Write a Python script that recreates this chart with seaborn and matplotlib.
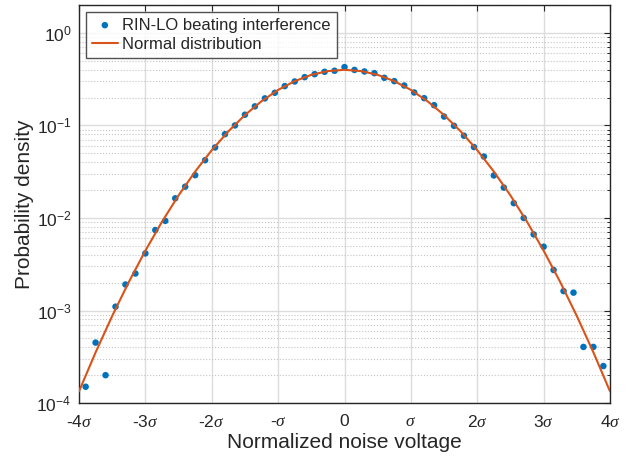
"""RIN-LO beating interference vs. normal distribution (log-scale PDF)."""

import matplotlib

matplotlib.use("Agg")
import matplotlib.pyplot as plt
import matplotlib.ticker as mticker
import pandas as pd
import seaborn as sns

# measured histogram (normalized voltage in units of sigma, probability density)
NOISE_X = [
    -3.90, -3.75, -3.60, -3.45, -3.30, -3.15, -3.00, -2.85, -2.70, -2.55,
    -2.40, -2.25, -2.10, -1.95, -1.80, -1.65, -1.50, -1.35, -1.20, -1.05,
    -0.90, -0.75, -0.60, -0.45, -0.30, -0.15, 0.00, 0.15, 0.30, 0.45,
    0.60, 0.75, 0.90, 1.05, 1.20, 1.35, 1.50, 1.65, 1.80, 1.95,
    2.10, 2.25, 2.40, 2.55, 2.70, 2.85, 3.00, 3.15, 3.30, 3.45,
    3.60, 3.75, 3.90,
]
NOISE_PDF = [
    1.5e-4, 4.5e-4, 2.0e-4, 1.10e-3, 1.91e-3, 2.51e-3, 4.14e-3, 7.4e-3, 9.3e-3, 0.0163,
    0.0218, 0.0290, 0.0421, 0.0578, 0.0805, 0.100, 0.1306, 0.1607, 0.196, 0.2254,
    0.266, 0.2985, 0.3325, 0.358, 0.380, 0.390, 0.4266, 0.398, 0.383, 0.367,
    0.327, 0.301, 0.270, 0.227, 0.197, 0.1655, 0.1247, 0.099, 0.0774, 0.0584,
    0.0461, 0.0288, 0.0213, 0.01445, 0.0100, 6.64e-3, 4.89e-3, 2.74e-3, 1.62e-3, 1.56e-3,
    4.04e-4, 4.04e-4, 2.51e-4,
]

# reference normal curve
NORMAL_X = [
    -4.00, -3.75, -3.50, -3.25, -3.00, -2.75, -2.50, -2.25, -2.00, -1.75,
    -1.50, -1.25, -1.00, -0.75, -0.50, -0.25, 0.00, 0.25, 0.50, 0.75,
    1.00, 1.25, 1.50, 1.75, 2.00, 2.25, 2.50, 2.75, 3.00, 3.25,
    3.50, 3.75, 4.00,
]
NORMAL_PDF = [
    1.338e-4, 3.527e-4, 8.727e-4, 2.029e-3, 4.432e-3, 9.096e-3, 0.01753, 0.03174, 0.05399, 0.08628,
    0.12952, 0.18265, 0.24197, 0.30114, 0.35207, 0.38667, 0.39894, 0.38667, 0.35207, 0.30114,
    0.24197, 0.18265, 0.12952, 0.08628, 0.05399, 0.03174, 0.01753, 9.096e-3, 4.432e-3, 2.029e-3,
    8.727e-4, 3.527e-4, 1.338e-4,
]

X_TICKS = [-4, -3, -2, -1, 0, 1, 2, 3, 4]
X_TICKLABELS = [r"-4$\sigma$", r"-3$\sigma$", r"-2$\sigma$", r"-$\sigma$", "0",
                r"$\sigma$", r"2$\sigma$", r"3$\sigma$", r"4$\sigma$"]

BLUE = "#0072BD"
ORANGE = "#D95319"


def main() -> None:
    sns.set_theme(style="white")
    plt.rcParams["font.family"] = ["Liberation Sans", "DejaVu Sans"]
    plt.rcParams["mathtext.fontset"] = "custom"
    plt.rcParams["mathtext.rm"] = "Liberation Sans"
    plt.rcParams["mathtext.it"] = "Liberation Serif:italic"

    meas = pd.DataFrame({"x": NOISE_X, "pdf": NOISE_PDF})
    norm = pd.DataFrame({"x": NORMAL_X, "pdf": NORMAL_PDF})

    fig = plt.figure(figsize=(6.32, 4.58), dpi=100)
    ax = fig.add_axes([0.125, 0.12, 0.8402, 0.869])

    sns.scatterplot(data=meas, x="x", y="pdf", ax=ax, color=BLUE, s=22,
                    edgecolor="none", label="RIN-LO beating interference", zorder=3)
    sns.lineplot(data=norm, x="x", y="pdf", ax=ax, color=ORANGE, linewidth=1.5,
                 label="Normal distribution", zorder=4)

    ax.set_yscale("log")
    ax.set_xlim(-4, 4)
    ax.set_ylim(1e-4, 2)
    ax.set_xticks(X_TICKS)
    ax.set_xticklabels(X_TICKLABELS)
    ax.yaxis.set_major_locator(mticker.LogLocator(base=10, numticks=10))
    ax.yaxis.set_minor_locator(mticker.LogLocator(base=10, subs=range(2, 10), numticks=20))
    ax.yaxis.set_minor_formatter(mticker.NullFormatter())

    ax.grid(which="major", color="#dcdcdc", linewidth=1.0)
    ax.grid(which="minor", axis="y", color="#c4c4c4", linestyle=":", linewidth=0.8)
    ax.set_axisbelow(True)

    ax.tick_params(which="both", direction="in", top=True, right=True,
                   labelsize=12.5, colors="#262626")
    ax.tick_params(which="major", length=4, width=0.8)
    ax.tick_params(which="minor", length=2.5, width=0.7)
    ax.tick_params(axis="x", pad=8)
    ax.tick_params(axis="y", pad=5.5)
    for sp in ax.spines.values():
        sp.set_color("#262626")
        sp.set_linewidth(1.0)

    ax.set_xlabel("Normalized noise voltage", fontsize=15, color="#262626", labelpad=2)
    ax.set_ylabel("Probability density", fontsize=15, color="#262626", labelpad=2)

    leg = ax.legend(loc="upper left", fontsize=12, frameon=True, fancybox=False,
                    borderaxespad=0.4, handlelength=1.6, handletextpad=0.25,
                    labelspacing=0.25, borderpad=0.35, markerscale=1.0)
    leg.get_frame().set_edgecolor("#262626")
    leg.get_frame().set_linewidth(1.0)
    for txt in leg.get_texts():
        txt.set_color("#262626")

    fig.savefig("out.png", dpi=100)
    plt.close(fig)


if __name__ == "__main__":
    main()
